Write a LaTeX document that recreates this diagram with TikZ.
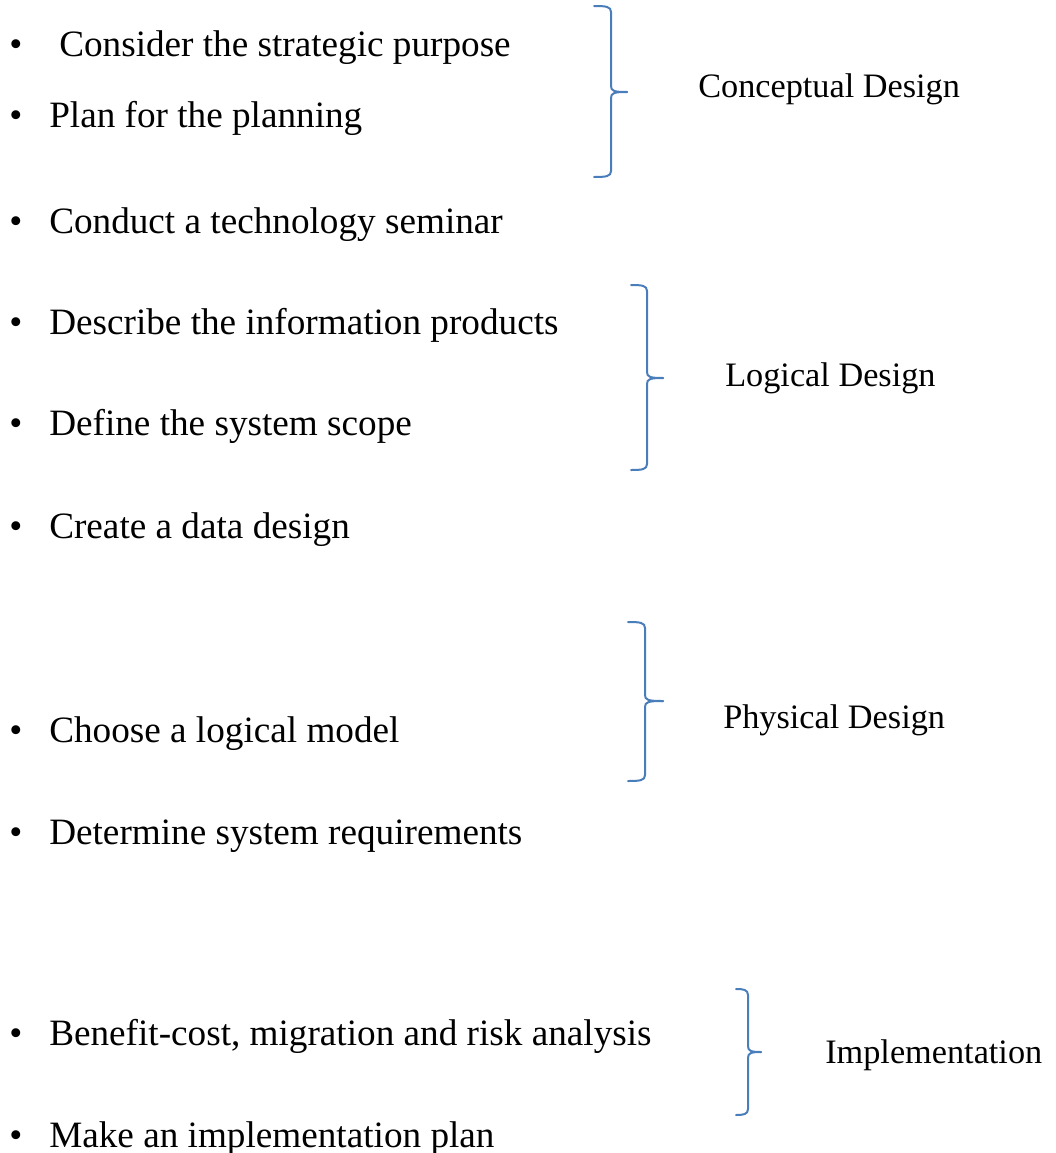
\documentclass[tikz,border=0pt]{standalone}
\usepackage{fontspec}
\setmainfont{Liberation Serif}
\definecolor{braceblue}{HTML}{4A7EBB}
\newcommand{\mybrace}[6]{% x0, xv, xt, ytop, ymid, ybot
  \draw[bracepath] (#1,#4) .. controls (#2-5,#4) and (#2,#4+0.5) .. (#2,#4+6)
    -- (#2,#5-6) .. controls (#2,#5-1) and (#2+3,#5) .. (#3,#5);
  \draw[bracepath] (#3,#5) .. controls (#2+3,#5) and (#2,#5+1) .. (#2,#5+6)
    -- (#2,#6-6) .. controls (#2,#6-0.5) and (#2-5,#6) .. (#1,#6);
}
\tikzset{
  item/.style={anchor=base west, inner sep=0pt, font=\fontsize{27.9}{33}\selectfont},
  dot/.style={anchor=base, inner sep=0pt, font=\fontsize{27.9}{33}\selectfont},
  lbl/.style={anchor=base west, inner sep=0pt, font=\fontsize{25.7}{30}\selectfont},
  bracepath/.style={draw=braceblue, line width=1.5pt, line cap=round, line join=round}
}
\begin{document}
\begin{tikzpicture}[x=0.75pt, y=-0.75pt]
\useasboundingbox (0,0) rectangle (1056,1153);
% bullets
\node[dot] (b1) at (16,56) {•};
\node[item] (t1) at (59,56) {Consider the strategic purpose};
\node[dot] (b2) at (16,127) {•};
\node[item] (t2) at (49,127) {Plan for the planning};
\node[dot] (b3) at (16,233) {•};
\node[item] (t3) at (49,233) {Conduct a technology seminar};
\node[dot] (b4) at (16,334) {•};
\node[item] (t4) at (49,334) {Describe the information products};
\node[dot] (b5) at (16,435) {•};
\node[item] (t5) at (49,435) {Define the system scope};
\node[dot] (b6) at (16,538) {•};
\node[item] (t6) at (49,538) {Create a data design};
\node[dot] (b7) at (16,742) {•};
\node[item] (t7) at (49,742) {Choose a logical model};
\node[dot] (b8) at (16,844) {•};
\node[item] (t8) at (49,844) {Determine system requirements};
\node[dot] (b9) at (16,1045) {•};
\node[item] (t9) at (49,1045) {Benefit-cost, migration and risk analysis};
\node[dot] (b10) at (16,1147) {•};
\node[item] (t10) at (49,1147) {Make an implementation plan};
% labels
\node[lbl] (l1) at (698,97) {Conceptual Design};
\node[lbl] (l2) at (725,386) {Logical Design};
\node[lbl] (l3) at (723,728) {Physical Design};
\node[lbl] (l4) at (825,1063) {Implementation};
% braces
\mybrace{594}{611}{627}{6}{92}{177}
\mybrace{631}{647}{663}{285}{378}{470}
\mybrace{628}{645}{663}{622}{701}{781}
\mybrace{736}{748}{761}{989}{1052}{1115}
\end{tikzpicture}
\end{document}
